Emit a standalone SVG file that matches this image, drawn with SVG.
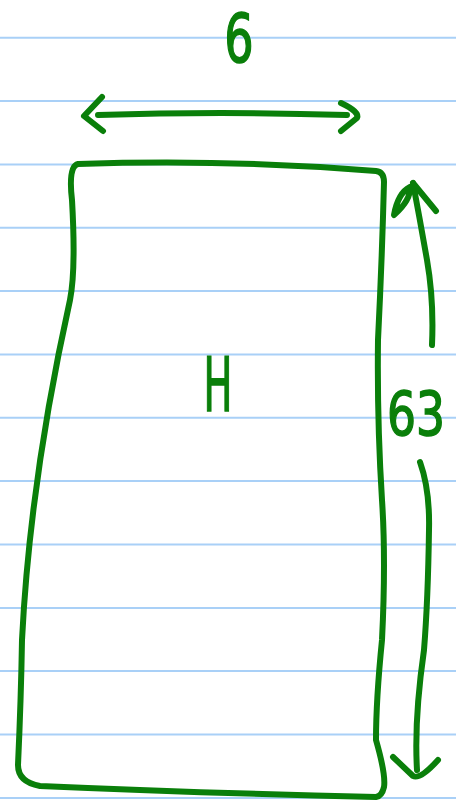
<svg xmlns="http://www.w3.org/2000/svg" width="456" height="802" viewBox="0 0 456 802">
<style>
.rule{stroke:#a9d0f7;stroke-width:2;fill:none}
.ink{stroke:#0a7f0a;stroke-width:6;fill:none;stroke-linecap:round;stroke-linejoin:round}
.lbl{fill:#0a7f0a;stroke:#0a7f0a;stroke-width:1.6;font-family:"DejaVu Sans","Liberation Sans",sans-serif}
</style>
<rect width="456" height="802" fill="#ffffff"/>
<g id="paper-lines">
<line class="rule" x1="0" y1="37.7" x2="456" y2="37.7"/>
<line class="rule" x1="0" y1="101" x2="456" y2="101"/>
<line class="rule" x1="0" y1="164.4" x2="456" y2="164.4"/>
<line class="rule" x1="0" y1="227.7" x2="456" y2="227.7"/>
<line class="rule" x1="0" y1="291" x2="456" y2="291"/>
<line class="rule" x1="0" y1="354.5" x2="456" y2="354.5"/>
<line class="rule" x1="0" y1="417.8" x2="456" y2="417.8"/>
<line class="rule" x1="0" y1="481" x2="456" y2="481"/>
<line class="rule" x1="0" y1="544.5" x2="456" y2="544.5"/>
<line class="rule" x1="0" y1="607.9" x2="456" y2="607.9"/>
<line class="rule" x1="0" y1="671" x2="456" y2="671"/>
<line class="rule" x1="0" y1="734.5" x2="456" y2="734.5"/>
<line class="rule" x1="0" y1="797.9" x2="456" y2="797.9"/>
</g>
<g id="rect-H">
<path class="ink" d="M 78 164 Q 230 159 376 171 Q 384 172 384 182 Q 382 260 378 340 Q 377 420 382 500 Q 386 560 382 640 Q 376 700 376 740 Q 386 775 384 787 Q 382 796 376 797 Q 200 793 40 786 Q 18 782 18 765 Q 21 700 22 640 Q 30 480 70 300 Q 76 270 72 200 Q 68 166 78 164 Z"/>
<text class="lbl" x="0" y="0" font-size="74" text-anchor="middle" transform="translate(218,411) scale(0.52,1)">H</text>
</g>
<g id="label-6">
<text class="lbl" x="0" y="0" font-size="68" text-anchor="middle" transform="translate(239,62) scale(0.68,1)">6</text>
</g>
<g id="label-63">
<text class="lbl" x="0" y="0" font-size="60" text-anchor="middle" transform="translate(416,435) scale(0.76,1)">63</text>
</g>
<g id="connectors">
<path class="ink" d="M 98 115 Q 220 111 347 115"/>
<path class="ink" d="M 102 97 L 84 116 L 103 131"/>
<path class="ink" d="M 341 103 Q 360 112 357 118 L 341 131"/>
<path class="ink" d="M 432 345 Q 434 300 427 260 Q 420 220 413 183"/>
<path class="ink" d="M 413 183 L 436 211"/>
<path class="ink" d="M 394 215 Q 398 193 410 187 Q 411 200 394 215 Z" fill="#0a7f0a"/>
<path class="ink" d="M 420 462 Q 430 490 429 530 Q 428 600 424 650 Q 414 720 417 770"/>
<path class="ink" d="M 393 757 L 413 776 Q 420 780 438 760"/>
</g>
</svg>
